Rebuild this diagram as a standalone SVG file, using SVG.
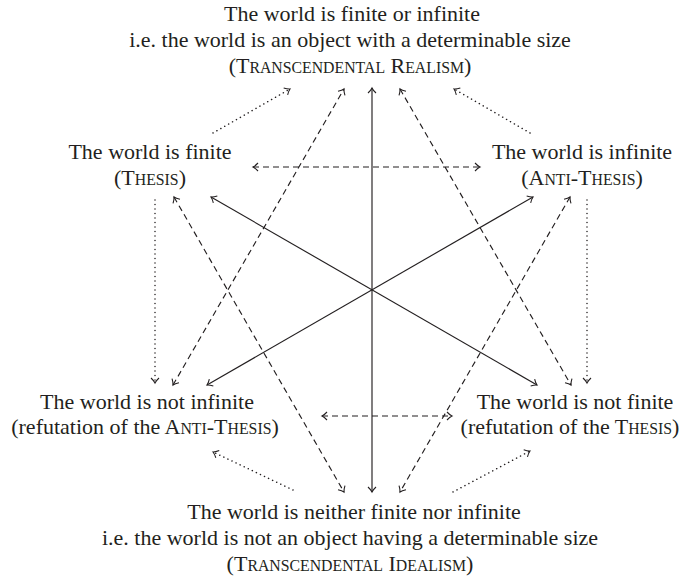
<svg xmlns="http://www.w3.org/2000/svg" width="683" height="580" viewBox="0 0 683 580">
<defs>
<style>
text{font-family:"Liberation Serif","Times New Roman",serif;font-size:22px;fill:#231f20;text-anchor:middle}
.sc{font-size:15.8px}
.c{fill:none;stroke:#231f20;stroke-width:1.15}
.dash{stroke-dasharray:6 4}
.dot{stroke-dasharray:0.1 4.4;stroke-linecap:round;stroke-width:1.5}
.two{marker-start:url(#ah);marker-end:url(#ah)}
.one{marker-end:url(#ah)}
</style>
<marker id="ah" viewBox="-7 -6 9 12" markerWidth="9" markerHeight="12" refX="0" refY="0" orient="auto-start-reverse" markerUnits="userSpaceOnUse">
<path d="M-5,-4 Q-2.2,-1 0,0 Q-2.2,1 -5,4" fill="none" stroke="#231f20" stroke-width="1.1" stroke-dasharray="none"/>
</marker>
</defs>
<g id="connectors">
<path class="c two" d="M372,88 V492"/>
<path class="c two" d="M211,197 L537,385"/>
<path class="c two" d="M207,385 L533,197"/>
<path class="c dash two" d="M174,197 L344,492"/>
<path class="c dash two" d="M173,385 L344,89"/>
<path class="c dash two" d="M400,89 L571,385"/>
<path class="c dash two" d="M570,197 L400,492"/>
<path class="c dash two" d="M253,167 H480"/>
<path class="c dash two" d="M322,416 H452"/>
<path class="c dot one" d="M213,133 L290,89"/>
<path class="c dot one" d="M530,133 L454,89"/>
<path class="c dot one" d="M155,200 V383"/>
<path class="c dot one" d="M587,200 V383"/>
<path class="c dot one" d="M293,490 L213,452"/>
<path class="c dot one" d="M453,492 L530,451"/>
</g>
<g id="top">
<text x="352" y="21">The world is finite or infinite</text>
<text x="350" y="47">i.e. the world is an object with a determinable size</text>
<text x="350" y="73">(T<tspan class="sc">RANSCENDENTAL</tspan> R<tspan class="sc">EALISM</tspan>)</text>
</g>
<g id="thesis">
<text x="150" y="159">The world is finite</text>
<text x="150" y="185">(T<tspan class="sc">HESIS</tspan>)</text>
</g>
<g id="antithesis">
<text x="582" y="159">The world is infinite</text>
<text x="582" y="185">(A<tspan class="sc">NTI</tspan>-T<tspan class="sc">HESIS</tspan>)</text>
</g>
<g id="not-infinite">
<text x="147" y="409">The world is not infinite</text>
<text x="145" y="434">(refutation of the A<tspan class="sc">NTI</tspan>-T<tspan class="sc">HESIS</tspan>)</text>
</g>
<g id="not-finite">
<text x="575" y="409">The world is not finite</text>
<text x="570" y="434">(refutation of the T<tspan class="sc">HESIS</tspan>)</text>
</g>
<g id="bottom">
<text x="354" y="519">The world is neither finite nor infinite</text>
<text x="350" y="545">i.e. the world is not an object having a determinable size</text>
<text x="350" y="571">(T<tspan class="sc">RANSCENDENTAL</tspan> I<tspan class="sc">DEALISM</tspan>)</text>
</g>
</svg>
